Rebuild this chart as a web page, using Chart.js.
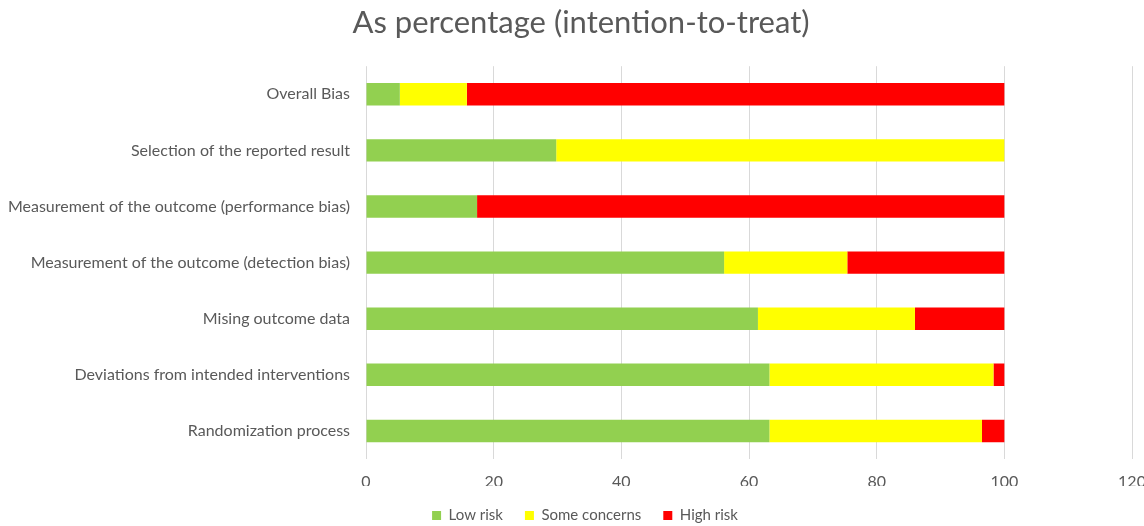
<!DOCTYPE html>
<html>
<head>
<meta charset="utf-8">
<script src="https://cdn.jsdelivr.net/npm/chart.js@4.4.1/dist/chart.umd.min.js"></script>
<style>
  html, body { margin: 0; padding: 0; background: #ffffff; }
  #wrap { width: 1144px; height: 526px; position: relative; }
</style>
</head>
<body>
<div id="wrap"><canvas id="chart"></canvas></div>
<script>
// Risk-of-bias domains, top to bottom
const domains = [
  'Overall Bias',
  'Selection of the reported result',
  'Measurement of the outcome (performance bias)',
  'Measurement of the outcome (detection bias)',
  'Mising outcome data',
  'Deviations from intended interventions',
  'Randomization process'
];

// Percentage of studies per judgement
const lowRisk       = [5.3, 29.8, 17.4, 56.1, 61.4, 63.2, 63.2];
const someConcerns  = [10.5, 70.2, 0, 19.3, 24.6, 35.1, 33.3];
const highRisk      = [84.2, 0, 82.6, 24.6, 14.0, 1.7, 3.5];

const xTicks = [0, 20, 40, 60, 80, 100, 120];

const textColor = '#595959';
const fontFamily = 'Lato, "Open Sans", sans-serif';

// Keeps the legend row compact while its items stay widely spaced,
// and nudges title and legend slightly right of the canvas centre.
const boxTweaks = {
  id: 'boxTweaks',
  beforeLayout(chart) {
    const lg = chart.legend;
    if (lg && !lg._compact) {
      const fit = lg.fit;
      lg.fit = function () { fit.call(this); this.height = 40; };
      lg._compact = true;
    }
  },
  afterLayout(chart) {
    if (chart.titleBlock) { chart.titleBlock.left += 18; }
    if (chart.legend) { chart.legend.left += 26; }
  }
};

new Chart(document.getElementById('chart'), {
  type: 'bar',
  data: {
    labels: domains,
    datasets: [
      { label: 'Low risk', data: lowRisk, backgroundColor: '#92d050' },
      { label: 'Some concerns', data: someConcerns, backgroundColor: '#ffff00' },
      { label: 'High risk', data: highRisk, backgroundColor: '#ff0000' }
    ]
  },
  plugins: [boxTweaks],
  options: {
    indexAxis: 'y',
    responsive: true,
    maintainAspectRatio: false,
    animation: false,
    datasets: {
      bar: { barPercentage: 0.4, categoryPercentage: 1.0, borderWidth: 0 }
    },
    layout: { padding: 0 },
    plugins: {
      title: {
        display: true,
        text: 'As percentage (intention-to-treat)',
        color: textColor,
        font: { family: fontFamily, size: 31, weight: 'normal' },
        padding: { top: 4, bottom: 25 }
      },
      legend: {
        display: true,
        position: 'bottom',
        labels: {
          color: textColor,
          font: { family: fontFamily, size: 15 },
          boxWidth: 9,
          boxHeight: 9,
          padding: 22
        }
      },
      tooltip: { enabled: false }
    },
    scales: {
      x: {
        stacked: true,
        min: 0,
        max: 120,
        afterBuildTicks: (scale) => { scale.ticks = xTicks.map(v => ({ value: v })); },
        afterFit: (scale) => { scale.height = 27; scale.paddingRight = 12; },
        grid: { color: '#d9d9d9', lineWidth: 1, drawTicks: false },
        border: { display: false },
        ticks: {
          color: textColor,
          font: { family: fontFamily, size: 16 },
          padding: 13
        }
      },
      y: {
        stacked: true,
        grid: { display: false, drawTicks: false },
        border: { display: false },
        afterFit: (scale) => { scale.width = 366; },
        ticks: {
          color: textColor,
          font: { family: fontFamily, size: 16 },
          padding: 16
        }
      }
    }
  }
});
</script>
</body>
</html>
